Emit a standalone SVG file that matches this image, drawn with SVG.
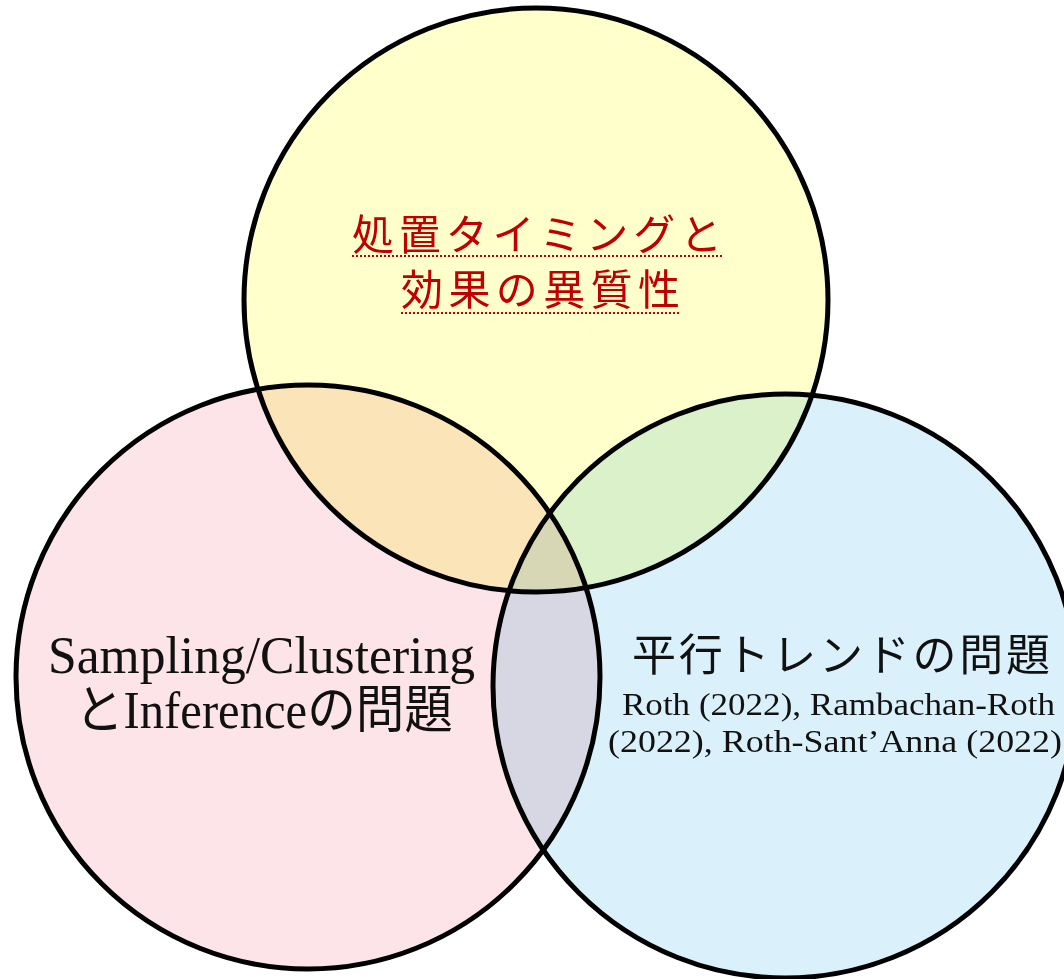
<svg xmlns="http://www.w3.org/2000/svg" width="1064" height="979" viewBox="0 0 1064 979">
<style>
.c{stroke:#000;stroke-width:5;mix-blend-mode:multiply}
.jp{font-family:"Liberation Serif","Noto Sans CJK JP",serif;font-size:44px;fill:#111}
.red{fill:#C00000;font-family:"Noto Sans CJK JP",sans-serif;font-size:42px}
.lat{font-family:"Liberation Serif","Noto Sans CJK JP",serif;fill:#111}
.ul{stroke:#C00000;stroke-width:2;stroke-dasharray:2,2}
</style>
<rect width="1064" height="979" fill="#fff"/>
<g id="circles" style="isolation:isolate">
<g id="node-top"><circle class="c" cx="536" cy="300" r="292" fill="#FFFFCC"/></g>
<g id="node-left"><circle class="c" cx="308" cy="677" r="292" fill="#FCE4E8"/></g>
<g id="node-right"><circle class="c" cx="785" cy="686" r="292" fill="#DAF1FB"/></g>
</g>
<g id="labels">
<g id="label-top">
<text class="red" x="352" y="250" textLength="370" lengthAdjust="spacing">処置タイミングと</text>
<line class="ul" x1="352" y1="256" x2="723" y2="256"/>
<text class="red" x="401" y="305" textLength="279" lengthAdjust="spacing">効果の異質性</text>
<line class="ul" x1="401" y1="313" x2="680" y2="313"/>
</g>
<g id="label-left">
<text class="lat" x="48" y="673" font-size="52" textLength="427" lengthAdjust="spacingAndGlyphs">Sampling/Clustering</text>
<text class="lat" x="75" y="728" font-size="52" textLength="378" lengthAdjust="spacingAndGlyphs">とInferenceの問題</text>
</g>
<g id="label-right">
<text class="jp" x="632" y="671" textLength="418" lengthAdjust="spacing">平行トレンドの問題</text>
<text class="lat" x="622" y="715" font-size="31" textLength="433" lengthAdjust="spacingAndGlyphs">Roth (2022), Rambachan-Roth</text>
<text class="lat" x="608" y="752" font-size="31" textLength="454" lengthAdjust="spacingAndGlyphs">(2022), Roth-Sant’Anna (2022)</text>
</g>
</g>
</svg>
